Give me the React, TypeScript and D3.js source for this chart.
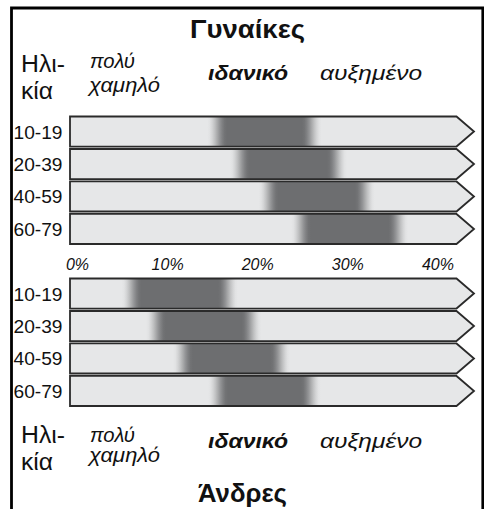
import React from "react";
import * as d3 from "d3";

const ages = ["10-19", "20-39", "40-59", "60-79"];
const womenLow = [15.5, 18.0, 21.2, 24.8];
const womenHigh = [26.0, 28.8, 31.9, 35.6];
const menLow = [6.0, 8.7, 11.7, 15.6];
const menHigh = [16.7, 19.3, 22.5, 25.9];
const tickValues = [0, 10, 20, 30, 40];
const titleWomen = "Γυναίκες";
const titleMen = "Άνδρες";
const ageLabel = ["Ηλι-", "κία"];
const lowLabel = ["πολύ", "χαμηλό"];
const idealLabel = "ιδανικό";
const highLabel = "αυξημένο";

const W = 484;
const H = 509;
const FADE = 1.1;
const LIGHT = "#e6e7e8";
const DARK = "#6d6e70";
const FONT = "'Liberation Sans', Arial, Helvetica, sans-serif";

const x = d3.scaleLinear().domain([0, 40]).range([77.5, 437.9]);
const barLeft = 70;
const bodyRight = 456.5;
const tipX = 474;

const colorAt = d3.interpolateRgb(LIGHT, DARK);

function stopsFor(low: number, high: number) {
  const span = high - low + 2 * FADE;
  const f = (2 * FADE) / span;
  const stops: { o: number; c: string }[] = [];
  const n = 8;
  for (let i = 0; i <= n; i++) {
    const t = i / n;
    const s = t * t * (3 - 2 * t);
    stops.push({ o: t * f, c: colorAt(s) });
  }
  for (let i = 0; i <= n; i++) {
    const t = i / n;
    const s = t * t * (3 - 2 * t);
    stops.push({ o: 1 - f + t * f, c: colorAt(1 - s) });
  }
  return stops;
}

function Panel({ id, lows, highs, range }: { id: string; lows: number[]; highs: number[]; range: [number, number] }) {
  const y = d3.scaleBand<string>().domain(ages).range(range).paddingInner(0.075);
  const bw = y.bandwidth();
  return (
    <g>
      <defs>
        {ages.map((a, i) => (
          <linearGradient key={a} id={`${id}-g${i}`} x1="0" x2="1" y1="0" y2="0">
            {stopsFor(lows[i], highs[i]).map((s, k) => (
              <stop key={k} offset={s.o} stopColor={s.c} />
            ))}
          </linearGradient>
        ))}
      </defs>
      {ages.map((a, i) => {
        const top = y(a)!;
        const bot = top + bw;
        const mid = top + bw / 2;
        const p = `M${barLeft},${top}H${bodyRight}L${tipX},${mid}L${bodyRight},${bot}H${barLeft}Z`;
        const gx0 = x(lows[i] - FADE);
        const gx1 = x(highs[i] + FADE);
        return (
          <g key={a}>
            <path d={p} fill={LIGHT} />
            <rect x={gx0} y={top} width={gx1 - gx0} height={bw} fill={`url(#${id}-g${i})`} />
            <path d={p} fill="none" stroke="#2a2a2a" strokeWidth={1.8} strokeLinejoin="miter" />
            <text x={13.5} y={mid + 7} fontSize={18.5} fontFamily={FONT} fill="#111" textLength={49} lengthAdjust="spacingAndGlyphs">
              {a}
            </text>
          </g>
        );
      })}
    </g>
  );
}

function Header({ ageY, lowY, lowGap, midY }: { ageY: number; lowY: number; lowGap: number; midY: number }) {
  return (
    <g fontFamily={FONT} fill="#111">
      <text x={21} y={ageY} fontSize={24.5} textLength={44} lengthAdjust="spacingAndGlyphs">{ageLabel[0]}</text>
      <text x={21} y={ageY + 27} fontSize={24.5} textLength={32} lengthAdjust="spacingAndGlyphs">{ageLabel[1]}</text>
      <text x={90} y={lowY} fontSize={20} fontStyle="italic" textLength={45} lengthAdjust="spacingAndGlyphs">{lowLabel[0]}</text>
      <text x={89} y={lowY + lowGap} fontSize={20} fontStyle="italic" textLength={71} lengthAdjust="spacingAndGlyphs">{lowLabel[1]}</text>
      <text x={208} y={midY} fontSize={20} fontStyle="italic" fontWeight="bold" textLength={80} lengthAdjust="spacingAndGlyphs">{idealLabel}</text>
      <text x={320} y={midY} fontSize={20} fontStyle="italic" textLength={102} lengthAdjust="spacingAndGlyphs">{highLabel}</text>
    </g>
  );
}

export default function App() {
  return (
    <svg width={W} height={H} viewBox={`0 0 ${W} ${H}`} style={{ position: "absolute", left: 0, top: 0, background: "#fff" }}>
      <rect width={W} height={H} fill="#fff" />
      <path d={`M11.5,${H}V8H482.8V${H}`} fill="none" stroke="#000" strokeWidth={2.8} />
      <text x={190} y={38} fontSize={26.5} fontWeight="bold" fontFamily={FONT} fill="#111" textLength={115} lengthAdjust="spacingAndGlyphs">
        {titleWomen}
      </text>
      <Header ageY={72} lowY={68} lowGap={24} midY={80} />
      <Panel id="w" lows={womenLow} highs={womenHigh} range={[116.5, 244]} />
      <g fontFamily={FONT} fontStyle="italic" fontSize={16} fill="#111" textAnchor="middle">
        {tickValues.map((v) => (
          <text key={v} x={x(v)} y={270}>{`${v}%`}</text>
        ))}
      </g>
      <Panel id="m" lows={menLow} highs={menHigh} range={[278.5, 406]} />
      <Header ageY={443} lowY={442} lowGap={20} midY={448} />
      <text x={198} y={502} fontSize={26.5} fontWeight="bold" fontFamily={FONT} fill="#111" textLength={89} lengthAdjust="spacingAndGlyphs">
        {titleMen}
      </text>
    </svg>
  );
}
